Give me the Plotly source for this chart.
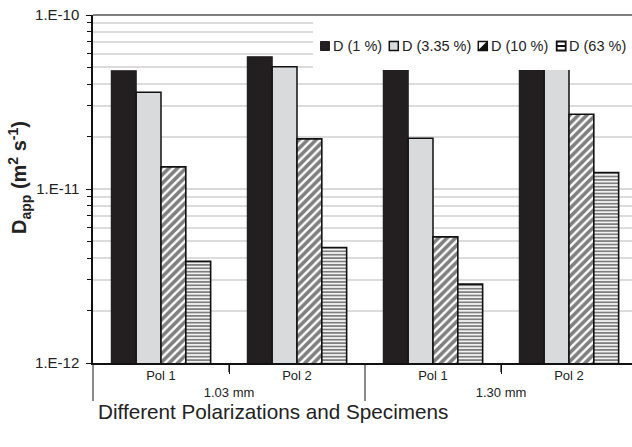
import plotly.graph_objects as go

# Specimen thickness (outer level) and polarization (inner level)
specimens = ["1.03 mm", "1.03 mm", "1.30 mm", "1.30 mm"]
polarizations = ["Pol 1", "Pol 2", "Pol 1", "Pol 2"]

series_names = ["D (1 %)", "D (3.35 %)", "D (10 %)", "D (63 %)"]

# Apparent diffusion coefficients, m^2/s
d_1 = [4.78e-11, 5.75e-11, 5.3e-11, 6.0e-11]
d_335 = [3.6e-11, 5.04e-11, 1.96e-11, 5.6e-11]
d_10 = [1.34e-11, 1.94e-11, 5.31e-12, 2.69e-11]
d_63 = [3.84e-12, 4.61e-12, 2.84e-12, 1.245e-11]

y_tick_vals = [1e-12, 1e-11, 1e-10]
y_tick_text = ["1.E-12", "1.E-11", "1.E-10"]
y_minor_vals = [m * 10.0 ** e for e in (-12, -11) for m in range(2, 10)]

FONT = "Liberation Sans, Arial, sans-serif"
DARK = "#231f20"
LIGHT = "#d9dadb"
INK = "#111111"

x = [specimens, polarizations]

styles = [
    dict(color=DARK, line=dict(color=DARK, width=1.2)),
    dict(color=LIGHT, line=dict(color=INK, width=1.5)),
    dict(color="white", line=dict(color=INK, width=1.6),
         pattern=dict(shape="/", fgcolor="#000000", bgcolor="white", size=6, solidity=0.6)),
    dict(color="white", line=dict(color=INK, width=1.6),
         pattern=dict(shape="-", fgcolor="#000000", bgcolor="white", size=3.4, solidity=0.55)),
]

fig = go.Figure()
for name, vals, st in zip(series_names, [d_1, d_335, d_10, d_63], styles):
    fig.add_trace(go.Bar(x=x, y=vals, name=name, marker=st, showlegend=False))

# layout geometry in pixels
W, H = 632, 447
L, T, R, B = 93, 15, 0, 84
PW, PH = W - L - R, H - T - B


def px(xp):
    return (xp - L) / PW


def py(yp):
    return (T + PH - yp) / PH


cat_px = 136.0
x_range = [-0.5, -0.5 + PW / cat_px]

fig.update_layout(
    width=W, height=H, autosize=False,
    margin=dict(l=L, r=R, t=T, b=B, pad=0),
    paper_bgcolor="white", plot_bgcolor="white",
    barmode="group", bargap=0.27, bargroupgap=0,
    font=dict(family=FONT, color="#222222"),
    xaxis=dict(
        type="multicategory", range=x_range,
        showline=True, linecolor=INK, linewidth=1.5,
        ticks="outside", tickson="boundaries", ticklen=9, tickcolor=INK, tickwidth=1.2,
        showdividers=True, dividercolor="#8a8a8a", dividerwidth=1.5,
        tickfont=dict(size=13, color="#222222", family=FONT),
        showgrid=False, zeroline=False,
    ),
    yaxis=dict(
        type="log", range=[-12, -10],
        tickmode="array", tickvals=y_tick_vals, ticktext=y_tick_text,
        ticks="outside", ticklen=5, tickcolor=INK, tickwidth=1.2,
        ticklabelstandoff=4,
        tickfont=dict(size=15, color="#222222", family=FONT),
        showline=True, linecolor=INK, linewidth=1.5,
        showgrid=True, gridcolor="#d9d9d9", gridwidth=2,
        minor=dict(tickmode="array", tickvals=y_minor_vals, ticks="outside", ticklen=4,
                   tickcolor=INK, tickwidth=1, showgrid=True,
                   gridcolor="#dcdcdc", gridwidth=1.5),
        zeroline=False,
    ),
)

shapes = []
# frame line along the top of the plotting area
shapes.append(dict(type="line", xref="paper", yref="paper", x0=0, x1=1, y0=1, y1=1,
                   line=dict(color="#555555", width=1.5), layer="above"))
# short ticks between the polarizations of each specimen
for k in (0.5, 2.5):
    xb = L + (k - x_range[0]) * cat_px
    shapes.append(dict(type="line", xref="paper", yref="paper",
                       x0=px(xb), x1=px(xb), y0=0, y1=py(T + PH + 9),
                       line=dict(color=INK, width=1.2)))
# legend panel
shapes.append(dict(type="rect", xref="paper", yref="paper",
                   x0=px(313), x1=1.0, y0=py(70), y1=py(16),
                   fillcolor="white", line=dict(width=0), layer="above"))

sq = 9
sq_y0, sq_y1 = 41.5, 50.5
sq_left = [320.5, 389.3, 478.3, 556.7]
txt_left = [331.2, 400.0, 488.8, 567.2]

# 1 %: solid dark
shapes.append(dict(type="rect", xref="paper", yref="paper",
                   x0=px(sq_left[0]), x1=px(sq_left[0] + sq), y0=py(sq_y1), y1=py(sq_y0),
                   fillcolor=DARK, line=dict(color=DARK, width=1), layer="above"))
# 3.35 %: light grey with dark outline
shapes.append(dict(type="rect", xref="paper", yref="paper",
                   x0=px(sq_left[1]), x1=px(sq_left[1] + sq), y0=py(sq_y1), y1=py(sq_y0),
                   fillcolor=LIGHT, line=dict(color=INK, width=1.5), layer="above"))
# 10 %: diagonal hatch glyph
xa, xb = sq_left[2], sq_left[2] + sq
shapes.append(dict(type="rect", xref="paper", yref="paper",
                   x0=px(xa), x1=px(xb), y0=py(sq_y1), y1=py(sq_y0),
                   fillcolor="white", line=dict(color=INK, width=1.5), layer="above"))
shapes.append(dict(type="path", xref="paper", yref="paper",
                   path=f"M {px(xa)},{py(sq_y1)} L {px(xb)},{py(sq_y0)} L {px(xb)},{py(sq_y1)} Z",
                   fillcolor=INK, line=dict(color=INK, width=1), layer="above"))
# 63 %: horizontal line glyph
xa, xb = sq_left[3], sq_left[3] + sq
shapes.append(dict(type="rect", xref="paper", yref="paper",
                   x0=px(xa), x1=px(xb), y0=py(sq_y1), y1=py(sq_y0),
                   fillcolor="white", line=dict(color=INK, width=1.8), layer="above"))
shapes.append(dict(type="line", xref="paper", yref="paper",
                   x0=px(xa), x1=px(xb), y0=py((sq_y0 + sq_y1) / 2), y1=py((sq_y0 + sq_y1) / 2),
                   line=dict(color=INK, width=2), layer="above"))

annotations = []
for name, xl in zip(series_names, txt_left):
    annotations.append(dict(text=name, xref="paper", yref="paper", x=px(xl), y=py(46),
                            xanchor="left", yanchor="middle", showarrow=False,
                            font=dict(size=14.5, color="#222222", family=FONT)))

annotations.append(dict(
    text="<b>D<sub>app</sub> (m<sup>2</sup> s<sup>-1</sup>)</b>",
    xref="paper", yref="paper", x=px(20), y=py(178), textangle=-90,
    xanchor="center", yanchor="middle", showarrow=False,
    font=dict(size=20, color="#222222", family=FONT)))

annotations.append(dict(
    text="Different Polarizations and Specimens",
    xref="paper", yref="paper", x=px(272.5), y=py(411),
    xanchor="center", yanchor="middle", showarrow=False,
    font=dict(size=20.7, color="#222222", family=FONT)))

fig.update_layout(shapes=shapes, annotations=annotations)

fig.write_html("out.html")
